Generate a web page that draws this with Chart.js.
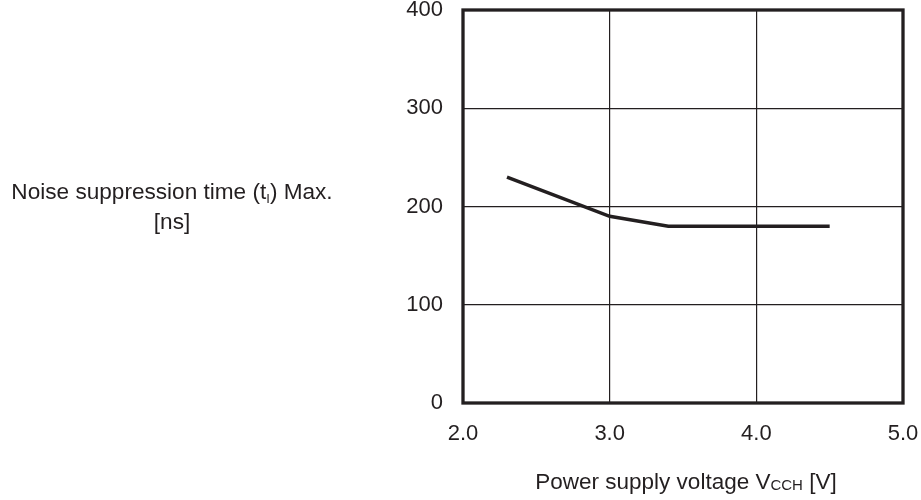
<!DOCTYPE html>
<html>
<head>
<meta charset="utf-8">
<script src="https://cdn.jsdelivr.net/npm/chart.js@4"></script>
<style>
html,body{margin:0;padding:0;background:#fff;}
#wrap{width:921px;height:500px;position:relative;}
</style>
</head>
<body>
<div id="wrap"><canvas id="c" width="921" height="500"></canvas></div>
<script>
// Data
const voltages = [2.3, 3.0, 3.4, 4.5];
const noiseTime = [230, 190, 180, 180];
const xTicks = [2.0, 3.0, 4.0, 5.0];
const yTicks = [0, 100, 200, 300, 400];

const INK = '#231f20';
const FONT = '"Liberation Sans", Arial, Helvetica, sans-serif';

const titlesPlugin = {
  id: 'titles',
  afterDraw(chart) {
    const ctx = chart.ctx;
    const a = chart.chartArea;
    ctx.save();
    // frame
    ctx.strokeStyle = INK;
    ctx.lineWidth = 3.3;
    ctx.strokeRect(a.left, a.top, a.right - a.left, a.bottom - a.top);
    ctx.fillStyle = INK;
    ctx.textBaseline = 'alphabetic';
    ctx.textAlign = 'left';
    function drawRuns(runs, cx, baseline) {
      let total = 0;
      runs.forEach(r => { ctx.font = r.size + 'px ' + FONT; r.w = ctx.measureText(r.t).width; total += r.w; });
      let x = cx - total / 2;
      runs.forEach(r => { ctx.font = r.size + 'px ' + FONT; ctx.fillText(r.t, x, baseline + (r.dy || 0)); x += r.w; });
    }
    drawRuns([
      {t: 'Noise suppression time (t', size: 22.6},
      {t: 'I', size: 13, dy: 4},
      {t: ') Max.', size: 22.6}
    ], 172, 199);
    drawRuns([{t: '[ns]', size: 22.6}], 172, 229);
    drawRuns([
      {t: 'Power supply voltage V', size: 22.5},
      {t: 'CCH', size: 15, dy: 1},
      {t: ' [V]', size: 22.5}
    ], 686, 489);
    ctx.restore();
  }
};

new Chart(document.getElementById('c'), {
  type: 'line',
  data: {
    datasets: [{
      data: voltages.map((v, i) => ({x: v, y: noiseTime[i]})),
      borderColor: INK,
      borderWidth: 3.5,
      pointRadius: 0,
      fill: false,
      tension: 0,
      borderCapStyle: 'butt',
      borderJoinStyle: 'miter'
    }]
  },
  options: {
    responsive: false,
    animation: false,
    devicePixelRatio: 1,
    layout: {padding: {left: 0, right: 18, top: 10, bottom: 0}},
    plugins: {legend: {display: false}, tooltip: {enabled: false}, title: {display: false}},
    scales: {
      x: {
        type: 'linear',
        min: xTicks[0], max: xTicks[xTicks.length - 1],
        afterBuildTicks(s) { s.ticks = xTicks.map(v => ({value: v})); },
        afterFit(s) { s.height = 97; s.paddingLeft = 0; s.paddingRight = 0; },
        grid: {color: INK, lineWidth: 1.2, drawTicks: false},
        border: {display: false},
        ticks: {
          color: INK, padding: 20,
          font: {family: FONT, size: 22, lineHeight: 1.0},
          maxRotation: 0, autoSkip: false,
          callback: v => Number(v).toFixed(1)
        }
      },
      y: {
        min: yTicks[0], max: yTicks[yTicks.length - 1],
        afterBuildTicks(s) { s.ticks = yTicks.map(v => ({value: v})); },
        afterFit(s) { s.width = 463; s.paddingTop = 0; s.paddingBottom = 0; },
        grid: {color: INK, lineWidth: 1.2, drawTicks: false},
        border: {display: false},
        ticks: {
          color: INK, padding: 20,
          font: {family: FONT, size: 22, lineHeight: 1.0},
          autoSkip: false,
          callback: v => String(v)
        }
      }
    }
  },
  plugins: [titlesPlugin]
});
</script>
</body>
</html>
